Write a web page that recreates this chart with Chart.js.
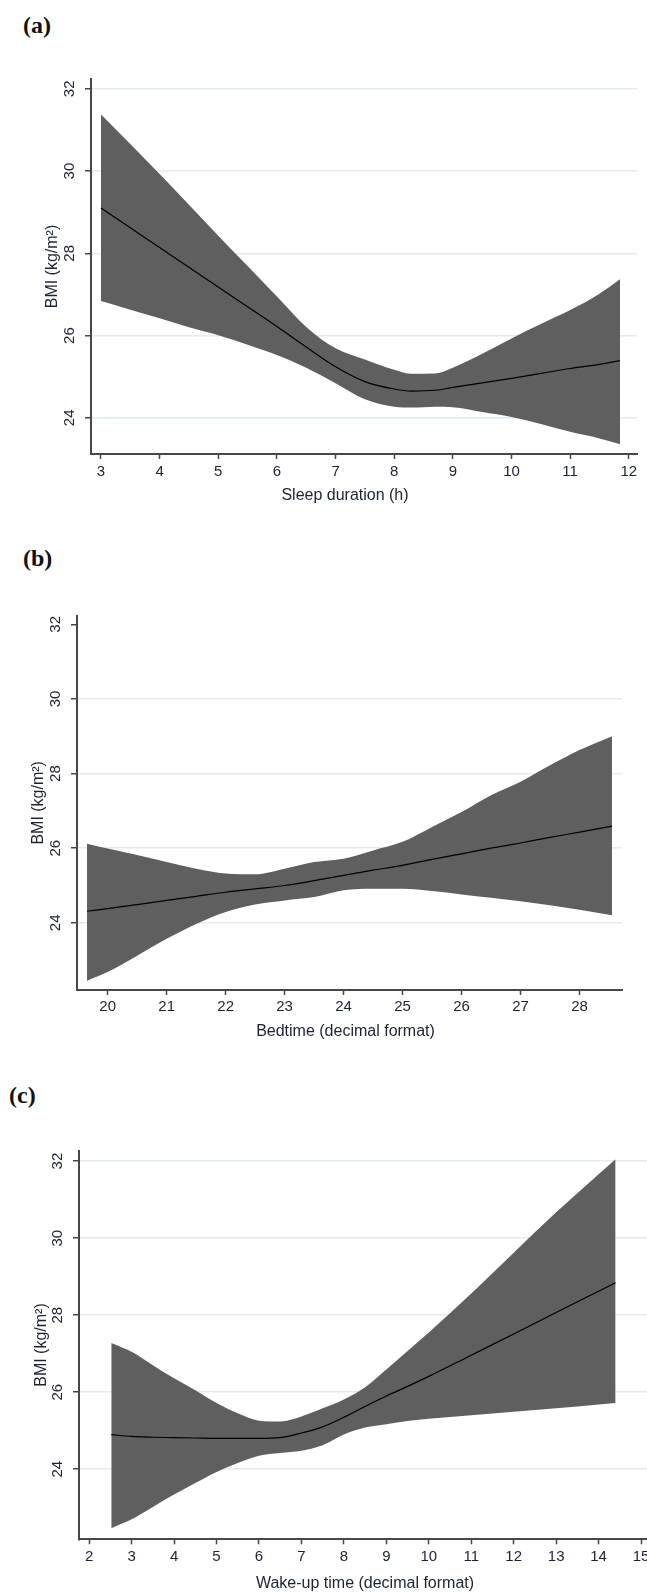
<!DOCTYPE html>
<html>
<head>
<meta charset="utf-8">
<script src="https://cdn.jsdelivr.net/npm/chart.js@4.4.1/dist/chart.umd.min.js"></script>
<style>
html,body{margin:0;padding:0;background:#fff;}
body{width:647px;height:1593px;position:relative;overflow:hidden;}
.lbl{position:absolute;font-family:"Liberation Serif","Times New Roman",serif;font-weight:bold;font-size:24px;line-height:24px;color:#111;}
canvas{position:absolute;left:0;}
</style>
</head>
<body>
<div class="lbl" style="left:23px;top:13px">(a)</div>
<div class="lbl" style="left:23px;top:546px">(b)</div>
<div class="lbl" style="left:9px;top:1083px">(c)</div>
<canvas id="ca" width="647" height="520" style="top:0px"></canvas>
<canvas id="cb" width="647" height="530" style="top:520px"></canvas>
<canvas id="cc" width="647" height="543" style="top:1050px"></canvas>
<script>
// ---------- Data ----------
const yTicks = [24, 26, 28, 30, 32];
const yTitle = 'BMI (kg/m\u00B2)';

// (a) Sleep duration
const xTitleA = 'Sleep duration (h)';
const xTicksA = [3, 4, 5, 6, 7, 8, 9, 10, 11, 12];
const sleepH  = [3, 3.5, 4, 4.5, 5, 5.5, 6, 6.5, 7, 7.5, 8, 8.3, 8.7, 9, 9.5, 10, 10.5, 11, 11.5, 11.85];
const upperA  = [31.38, 30.66, 29.93, 29.18, 28.43, 27.69, 26.95, 26.21, 25.69, 25.42, 25.17, 25.07, 25.08, 25.22, 25.56, 25.93, 26.28, 26.62, 27.02, 27.37];
const fitA    = [29.10, 28.62, 28.14, 27.66, 27.18, 26.70, 26.22, 25.72, 25.24, 24.88, 24.70, 24.65, 24.67, 24.74, 24.85, 24.96, 25.08, 25.20, 25.30, 25.39];
const lowerA  = [26.84, 26.63, 26.42, 26.20, 26.01, 25.78, 25.53, 25.22, 24.84, 24.45, 24.27, 24.25, 24.27, 24.26, 24.14, 24.02, 23.85, 23.66, 23.50, 23.36];

// (b) Bedtime
const xTitleB = 'Bedtime (decimal format)';
const xTicksB = [20, 21, 22, 23, 24, 25, 26, 27, 28];
const bedtime = [19.65, 20, 20.5, 21, 21.5, 22, 22.5, 23, 23.5, 24, 24.5, 25, 25.5, 26, 26.5, 27, 27.5, 28, 28.55];
const upperB  = [26.12, 25.99, 25.82, 25.63, 25.45, 25.32, 25.30, 25.45, 25.63, 25.72, 25.94, 26.17, 26.57, 26.97, 27.42, 27.78, 28.22, 28.63, 29.00];
const fitB    = [24.31, 24.38, 24.49, 24.60, 24.71, 24.82, 24.91, 25.00, 25.13, 25.27, 25.41, 25.54, 25.70, 25.85, 26.00, 26.14, 26.29, 26.43, 26.59];
const lowerB  = [22.45, 22.68, 23.12, 23.57, 23.97, 24.29, 24.49, 24.60, 24.69, 24.87, 24.91, 24.91, 24.85, 24.76, 24.67, 24.58, 24.47, 24.35, 24.20];

// (c) Wake-up time
const xTitleC = 'Wake-up time (decimal format)';
const xTicksC = [2, 3, 4, 5, 6, 7, 8, 9, 10, 11, 12, 13, 14, 15];
const wakeup  = [2.52, 3, 3.5, 4, 4.5, 5, 5.5, 6, 6.5, 7, 7.5, 8, 8.5, 9, 9.5, 10, 11, 12, 13, 14, 14.4];
const upperC  = [27.28, 27.05, 26.70, 26.36, 26.05, 25.72, 25.45, 25.26, 25.24, 25.37, 25.58, 25.81, 26.13, 26.59, 27.07, 27.55, 28.56, 29.62, 30.67, 31.66, 32.05];
const fitC    = [24.90, 24.85, 24.83, 24.82, 24.81, 24.80, 24.80, 24.80, 24.82, 24.94, 25.10, 25.35, 25.63, 25.90, 26.15, 26.41, 26.96, 27.51, 28.07, 28.62, 28.84];
const lowerC  = [22.47, 22.70, 23.02, 23.34, 23.64, 23.93, 24.16, 24.35, 24.42, 24.48, 24.62, 24.90, 25.08, 25.17, 25.25, 25.31, 25.40, 25.49, 25.58, 25.68, 25.72];

// ---------- Styling ----------
const TXT = '#1b2233';
const AXIS = '#474747';
const GRID = '#e4ecf1';
const BAND = '#5f5f5f';
const FONT = "'Liberation Sans', Arial, sans-serif";

// draws the x-axis title centred at (plot centre + dx, y)
const xTitlePlugin = {
  id: 'xTitleText',
  afterDraw(chart, args, o) {
    if (!o || !o.text) return;
    const ctx = chart.ctx, ca = chart.chartArea;
    ctx.save();
    ctx.font = '16px ' + FONT;
    ctx.fillStyle = TXT;
    ctx.textAlign = 'center';
    ctx.textBaseline = 'middle';
    ctx.fillText(o.text, (ca.left + ca.right) / 2 + o.dx, o.y);
    ctx.restore();
  }
};

function makePanel(id, xs, up, mid, lo, xTicks, xTitle, L) {
  const pts = ys => xs.map((x, i) => ({x: x, y: ys[i]}));
  return new Chart(document.getElementById(id), {
    type: 'line',
    plugins: [xTitlePlugin],
    data: {
      datasets: [
        {label: 'Fitted BMI', data: pts(mid), borderColor: '#000', borderWidth: 1.2,
         pointRadius: 0, fill: false, cubicInterpolationMode: 'monotone'},
        {label: '95% CI upper', data: pts(up), borderColor: 'rgba(0,0,0,0)', borderWidth: 0,
         backgroundColor: BAND, pointRadius: 0, fill: '+1', cubicInterpolationMode: 'monotone'},
        {label: '95% CI lower', data: pts(lo), borderColor: 'rgba(0,0,0,0)', borderWidth: 0,
         pointRadius: 0, fill: false, cubicInterpolationMode: 'monotone'}
      ]
    },
    options: {
      responsive: false, animation: false, devicePixelRatio: 1,
      layout: {padding: {left: 0, top: L.top, right: L.right, bottom: 0}},
      plugins: {legend: {display: false}, tooltip: {enabled: false},
                xTitleText: {text: xTitle, dx: L.tdx, y: L.ty}},
      scales: {
        x: {
          type: 'linear', min: L.xmin, max: L.xmax,
          afterBuildTicks: s => { s.ticks = xTicks.map(v => ({value: v})); },
          afterFit: s => { s.height = L.xh; s.paddingLeft = 0; s.paddingRight = 0; },
          grid: {drawOnChartArea: false, drawTicks: true, tickLength: 5, tickColor: AXIS, tickWidth: 1.5},
          border: {display: true, color: AXIS, width: 2},
          ticks: {padding: L.xtp, color: TXT, font: {family: FONT, size: 15},
                  maxRotation: 0, minRotation: 0, autoSkip: false},
          title: {display: false, text: xTitle}
        },
        y: {
          type: 'linear', min: L.ymin, max: L.ymax,
          afterBuildTicks: s => { s.ticks = yTicks.map(v => ({value: v})); },
          afterFit: s => { s.width = L.yw; s.paddingTop = 0; s.paddingBottom = 0; },
          grid: {color: c => (L.noTopGrid && c.tick && c.tick.value === 32) ? 'rgba(0,0,0,0)' : GRID,
                 lineWidth: 1.5, drawTicks: true, tickLength: 6, tickColor: AXIS, tickWidth: 1.5},
          border: {display: true, color: AXIS, width: 2},
          ticks: {minRotation: 90, maxRotation: 90, crossAlign: 'center', padding: 7,
                  color: TXT, font: {family: FONT, size: 15}},
          title: {display: true, text: yTitle, color: TXT, font: {family: FONT, size: 16},
                  padding: {top: L.ytitle, bottom: 0}}
        }
      }
    }
  });
}

makePanel('ca', sleepH, upperA, fitA, lowerA, xTicksA, xTitleA,
  {top: 79, right: 10, xh: 66, yw: 91, xmin: 2.83, xmax: 12.14, ymin: 23.12, ymax: 32.24,
   xtp: 4, ytitle: 43.4, noTopGrid: false, tdx: -19, ty: 496});
makePanel('cb', bedtime, upperB, fitB, lowerB, xTicksB, xTitleB,
  {top: 95.7, right: 25, xh: 60, yw: 77, xmin: 19.48, xmax: 28.72, ymin: 22.2, ymax: 32.23,
   xtp: 3, ytitle: 29.4, noTopGrid: true, tdx: -4, ty: 512});
makePanel('cc', wakeup, upperC, fitC, lowerC, xTicksC, xTitleC,
  {top: 100.7, right: 0, xh: 53.7, yw: 79, xmin: 1.76, xmax: 15.14, ymin: 22.18, ymax: 32.27,
   xtp: 4, ytitle: 31.9, noTopGrid: false, tdx: 2, ty: 534});
</script>
</body>
</html>
